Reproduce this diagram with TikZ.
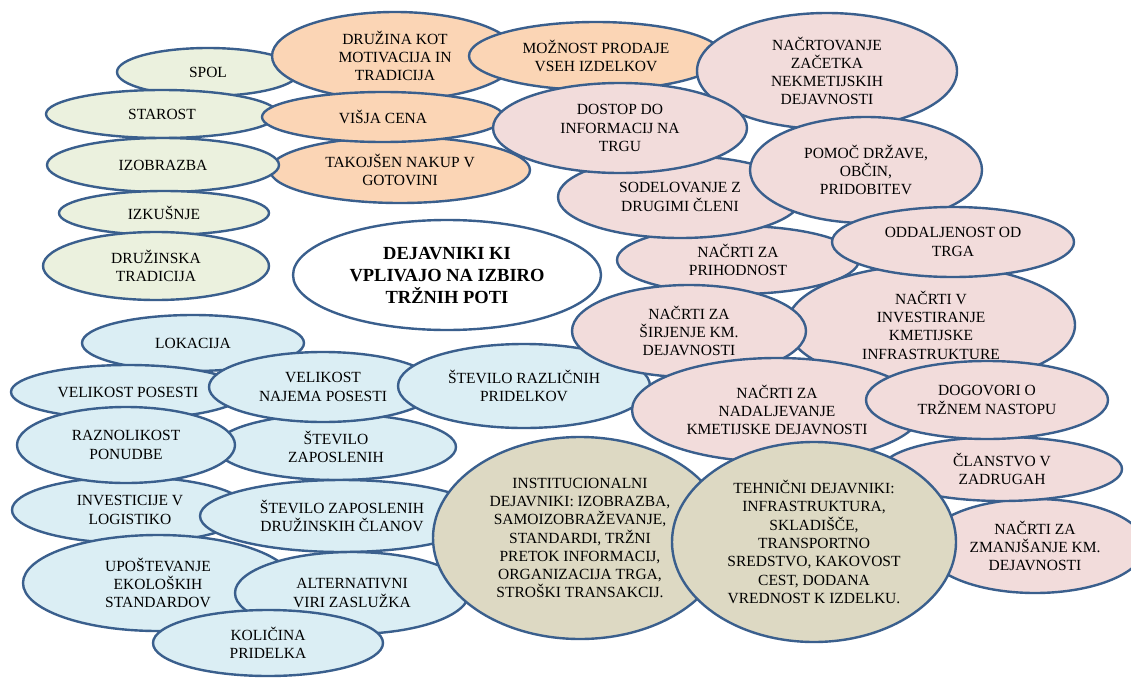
\documentclass[tikz,border=0pt]{standalone}
\usepackage{fontspec}
\setmainfont{Liberation Serif}
\usetikzlibrary{shapes.geometric}
\definecolor{edgeblue}{HTML}{3A5F8D}
\definecolor{fgreen}{HTML}{EBF1DE}
\definecolor{forange}{HTML}{FBD5B5}
\definecolor{fpink}{HTML}{F2DCDB}
\definecolor{fblue}{HTML}{DBEEF4}
\definecolor{ftan}{HTML}{DDD9C3}
\tikzset{
  bub/.style 2 args={ellipse, draw=edgeblue, line width=2.4pt, inner sep=0pt,
    minimum width=#1pt, minimum height=#2pt, align=center,
    font=\fontsize{15.5}{18.3}\selectfont},
  gbub/.style 2 args={bub={#1}{#2}, fill=fgreen},
  obub/.style 2 args={bub={#1}{#2}, fill=forange},
  pbub/.style 2 args={bub={#1}{#2}, fill=fpink},
  bbub/.style 2 args={bub={#1}{#2}, fill=fblue},
  tbub/.style 2 args={bub={#1}{#2}, fill=ftan},
}
\begin{document}
\begin{tikzpicture}[x=1pt,y=-1pt]
\useasboundingbox[fill=white] (0,0) rectangle (1131,677);
% green and orange group
\node[gbub={182}{48}] (spol) at (208,72) {SPOL};
\node[gbub={232}{48}] (starost) at (162,114) {STAROST};
\node[obub={260}{66}] (takojsen) at (400,170) {TAKOJŠEN NAKUP V\\GOTOVINI};
\node[obub={246}{88}] (druzina) at (395,56) {DRUŽINA KOT\\MOTIVACIJA IN\\TRADICIJA};
\node[obub={254}{68}] (moznost) at (596,56) {MOŽNOST PRODAJE\\VSEH IZDELKOV};
\node[obub={242}{50}] (visja) at (383,117) {VIŠJA CENA};
\node[gbub={232}{54}] (izobrazba) at (163,165) {IZOBRAZBA};
\node[gbub={210}{44}] (izkusnje) at (164,213) {IZKUŠNJE};
\node[gbub={226}{68}] (druzinska) at (156,266) {DRUŽINSKA\\TRADICIJA};
% pink upper group
\node[pbub={260}{116}] (nacrtovanje) at (827,71) {NAČRTOVANJE\\ZAČETKA\\NEKMETIJSKIH\\DEJAVNOSTI};
\node[pbub={242}{68}] (prihodnost) at (738,260) {NAČRTI ZA\\PRIHODNOST};
\node[pbub={244}{82}] (sodelovanje) at (680,197) {SODELOVANJE Z\\DRUGIMI ČLENI};
\node[pbub={254}{90}] (dostop) at (620,128) {DOSTOP DO\\INFORMACIJ NA\\TRGU};
\node[pbub={232}{106}] (pomoc) at (866,170) {POMOČ DRŽAVE,\\OBČIN,\\PRIDOBITEV};
\node[pbub={288}{120}] (investiranje) at (931,325) {NAČRTI V\\INVESTIRANJE\\KMETIJSKE\\INFRASTRUKTURE};
\node[pbub={242}{70}] (oddaljenost) at (953,242) {ODDALJENOST OD\\TRGA};
% blue group
\node[bbub={222}{56}] (lokacija) at (193,343) {LOKACIJA};
\node[bbub={234}{54}] (posesti) at (128,392) {VELIKOST POSESTI};
\node[bbub={240}{66}] (zaposlenih) at (336,447) {ŠTEVILO\\ZAPOSLENIH};
\node[bbub={236}{66}] (investicije) at (130,510) {INVESTICIJE V\\LOGISTIKO};
\node[bbub={218}{76}] (raznolikost) at (126,445) {RAZNOLIKOST\\PONUDBE};
\node[bbub={228}{70}] (najema) at (323,387) {VELIKOST\\NAJEMA POSESTI};
\node[bbub={252}{84}] (razlicnih) at (524,386) {ŠTEVILO RAZLIČNIH\\PRIDELKOV};
\node[bbub={284}{72}] (druzclanov) at (342,516) {ŠTEVILO ZAPOSLENIH\\DRUŽINSKIH ČLANOV};
\node[bbub={270}{96}] (upostevanje) at (158,583) {UPOŠTEVANJE\\EKOLOŠKIH\\STANDARDOV};
\node[bbub={234}{82}] (alternativni) at (352,593) {ALTERNATIVNI\\VIRI ZASLUŽKA};
\node[bbub={230}{66}] (kolicina) at (268,643) {KOLIČINA\\PRIDELKA};
% pink lower group
\node[pbub={234}{92}] (sirjenje) at (689,331) {NAČRTI ZA\\ŠIRJENJE KM.\\DEJAVNOSTI};
\node[pbub={220}{94}] (zmanjsanje) at (1035,546) {NAČRTI ZA\\ZMANJŠANJE KM.\\DEJAVNOSTI};
\node[pbub={240}{64}] (clanstvo) at (1002,469) {ČLANSTVO V\\ZADRUGAH};
\node[pbub={290}{104}] (nadaljevanje) at (777,410) {NAČRTI ZA\\NADALJEVANJE\\KMETIJSKE DEJAVNOSTI};
\node[pbub={242}{78}] (dogovori) at (987,400) {DOGOVORI O\\TRŽNEM NASTOPU};
% centre
\node[bub={308}{110}, fill=white, font=\fontsize{18.5}{22}\selectfont\bfseries] (dejavniki) at (447,275) {DEJAVNIKI KI\\VPLIVAJO NA IZBIRO\\TRŽNIH POTI};
% tan circles
\node[tbub={294}{202}] (institucionalni) at (580,538) {INSTITUCIONALNI\\DEJAVNIKI: IZOBRAZBA,\\SAMOIZOBRAŽEVANJE,\\STANDARDI, TRŽNI\\PRETOK INFORMACIJ,\\ORGANIZACIJA TRGA,\\STROŠKI TRANSAKCIJ.};
\node[tbub={284}{200}] (tehnicni) at (814,542) {TEHNIČNI DEJAVNIKI:\\INFRASTRUKTURA,\\SKLADIŠČE,\\TRANSPORTNO\\SREDSTVO, KAKOVOST\\CEST, DODANA\\VREDNOST K IZDELKU.};
\end{tikzpicture}
\end{document}
